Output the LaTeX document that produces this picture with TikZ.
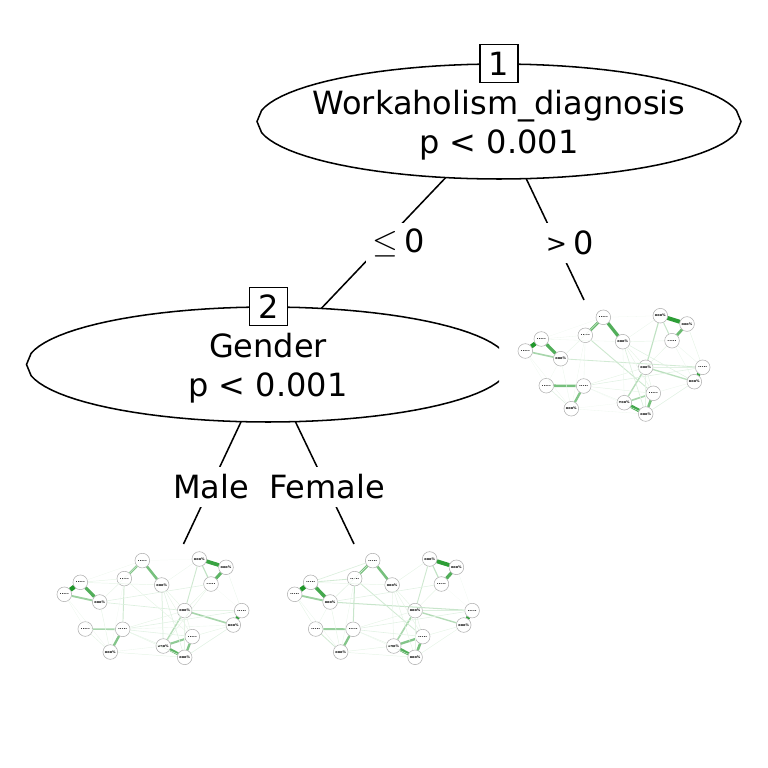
\documentclass[tikz,border=0pt]{standalone}
\usepackage{fontspec}
\setmainfont{DejaVu Sans}
\usetikzlibrary{shapes.geometric}
\definecolor{edgegreen}{RGB}{30,150,40}
\definecolor{ringgrey}{RGB}{175,175,175}
\newcommand{\labdots}{\fontsize{3.6}{4}\selectfont .....}
\newcommand{\labitem}{\fontsize{2.6}{3}\selectfont ooo\%}
\newcommand{\netgraph}[4]{%
  \begin{scope}[shift={(#1,#2)},name prefix=#3-]
    \foreach \n/\x/\y/\lab in {a/541.3/339/\labdots,b/525.3/351/\labdots,c/560.7/358.7/\labitem,
        d/585.3/335.3/\labdots,e/603.3/317.3/\labdots,f/622.7/341.7/\labitem,
        g/660.3/315.7/\labitem,h/687/324/\labitem,i/672/340.7/\labdots,
        j/645.7/367.3/\labitem,k/702.7/367.3/\labdots,l/694.3/381.7/\labitem,
        m/546.3/385.7/\labdots,n/583.7/386/\labdots,o/571.3/408.7/\labitem,
        p/653.3/393.3/\labdots,q/624.3/402.7/\labitem,r/645.7/414/\labitem}
      \node[netnode] (\n) at (\x,\y) {\lab};
    \foreach \a/\b/\w in {#4} {
      \pgfmathsetmacro\ww{\w*3.5}
      \pgfmathsetmacro\cc{min(100,\w*110)}
      \draw[line width=\ww pt,edgegreen!\cc] (\a) -- (\b);
    }
  \end{scope}}

\begin{document}
\begin{tikzpicture}[
    x=0.75pt, y=-0.75pt,
    treeline/.style={black,line width=1.15pt},
    treetext/.style={align=center,font=\fontsize{24}{29}\selectfont},
    splitnode/.style={ellipse,minimum height=86.25pt,minimum width=363pt,inner sep=0pt},
    idbox/.style={treeline,draw,fill=white,minimum size=28.5pt,inner sep=0pt,
                  font=\fontsize{24}{28.5}\selectfont},
    edgelab/.style={fill=white,minimum height=30pt,inner xsep=5pt,inner ysep=0pt,
                    font=\fontsize{24}{28.5}\selectfont},
    netnode/.style={circle,draw=ringgrey,line width=0.4pt,fill=white,minimum size=11pt,
                    inner sep=0pt,font=\bfseries}]
  \useasboundingbox (0,0) rectangle (768,768);

  \netgraph{0}{0}{net1}{a/b/.9,a/c/.7,b/c/.35,d/e/.6,e/f/.7,g/h/.85,h/i/.6,g/i/.22,k/l/.8,
      m/n/.55,n/o/.5,p/r/.55,q/r/.75,p/q/.35,j/q/.3,j/l/.28,g/j/.25,d/p/.2,c/k/.18,n/k/.12,
      n/j/.1,f/r/.14,f/i/.1,f/l/.12,a/f/.07,a/d/.07,a/e/.06,c/d/.08,c/e/.07,b/m/.06,b/o/.07,
      c/o/.08,c/m/.06,d/n/.08,d/o/.07,e/g/.06,f/g/.08,f/j/.1,f/p/.1,f/q/.08,i/j/.1,i/k/.08,
      h/k/.1,i/l/.08,j/k/.12,j/p/.1,j/r/.1,l/r/.12,l/p/.08,n/p/.1,n/q/.08,n/r/.06,o/q/.06,
      o/r/.07,m/o/.12}
  \netgraph{-461}{243.3}{net2}{a/b/.95,a/c/.7,b/c/.4,d/e/.5,e/f/.55,g/h/.8,h/i/.65,g/i/.25,k/l/.85,
      j/l/.35,m/n/.35,n/o/.5,p/r/.5,q/r/.65,p/q/.45,j/q/.3,g/j/.2,d/n/.2,f/q/.16,f/r/.12,n/k/.12,
      n/j/.1,c/j/.14,c/i/.12,a/f/.1,a/d/.1,a/e/.07,c/d/.08,c/e/.07,b/m/.07,b/o/.07,c/o/.1,
      d/o/.06,e/g/.05,f/g/.08,f/j/.1,f/p/.1,d/p/.1,i/j/.1,i/k/.05,h/k/.08,i/q/.1,j/k/.1,
      j/p/.1,j/r/.1,l/r/.12,l/p/.1,n/p/.12,n/q/.1,n/r/.1,n/l/.08,o/q/.08,o/r/.1,m/o/.1}
  \netgraph{-230.6}{243.3}{net3}{a/b/.95,a/c/.75,b/c/.4,d/e/.55,e/f/.55,g/h/.85,h/i/.7,g/i/.25,k/l/.85,
      j/l/.3,c/k/.22,j/k/.14,m/n/.42,n/o/.5,p/r/.55,q/r/.7,p/q/.5,j/q/.35,g/j/.2,d/n/.22,d/p/.18,
      m/o/.18,a/d/.18,a/e/.14,a/f/.1,c/d/.1,c/e/.08,c/i/.12,b/m/.1,b/o/.08,c/o/.1,c/m/.08,
      d/o/.08,f/g/.1,f/j/.1,f/p/.1,f/q/.1,f/r/.1,i/j/.1,i/k/.05,h/k/.06,j/p/.1,j/r/.1,
      l/r/.1,l/p/.1,n/p/.12,n/k/.12,n/j/.1,n/q/.1,n/r/.08,o/q/.1,o/r/.1}

  \node[splitnode] (n1) at (499,121.5) {};
  \node[splitnode] (n2) at (268,364.5) {};
  \draw[treeline] plot[domain=11.25:168.75,samples=43] ({499+242*cos(\x)},{121.5+57.5*sin(\x)})
      -- (257,121.5) -- plot[domain=191.25:348.75,samples=43] ({499+242*cos(\x)},{121.5+57.5*sin(\x)})
      -- (741,121.5) -- cycle;
  \begin{scope}
    \clip (0,0) rectangle (499,768);
    \draw[treeline] plot[domain=11.25:168.75,samples=43] ({268+241.5*cos(\x)},{364.5+57.5*sin(\x)})
        -- (26.5,364.5) -- plot[domain=191.25:348.75,samples=43] ({268+241.5*cos(\x)},{364.5+57.5*sin(\x)})
        -- (509.5,364.5) -- cycle;
  \end{scope}

  \coordinate (net1top) at (584,300);
  \coordinate (net2top) at (183.5,544);
  \coordinate (net3top) at (354,544);
  \draw[treeline] (n1) -- (n2);
  \draw[treeline] (n1) -- (net1top);
  \draw[treeline] (n2) -- (net2top);
  \draw[treeline] (n2) -- (net3top);

  \node[edgelab] (lab1) at (399,243) {\raisebox{-2pt}{$\leq$\hspace{-3pt} 0}};
  \node[edgelab] (lab2) at (570,243) {\raisebox{-2pt}{\fontsize{19}{20}\selectfont\raisebox{1.5pt}{>}\hspace{-2.5pt}\fontsize{24}{28.5}\selectfont{} 0}};
  \node[edgelab] (lab3) at (211,487) {Male};
  \node[edgelab] (lab4) at (327,487) {Female};

  \node[treetext] (t1) at (499,125) {Workaholism\_diagnosis\\p < 0.001};
  \node[treetext] (t2) at (268,368) {Gender\\p < 0.001};
  \node[idbox] (id1) at (499,63.5) {1};
  \node[idbox] (id2) at (268.5,306.7) {2};
\end{tikzpicture}
\end{document}
